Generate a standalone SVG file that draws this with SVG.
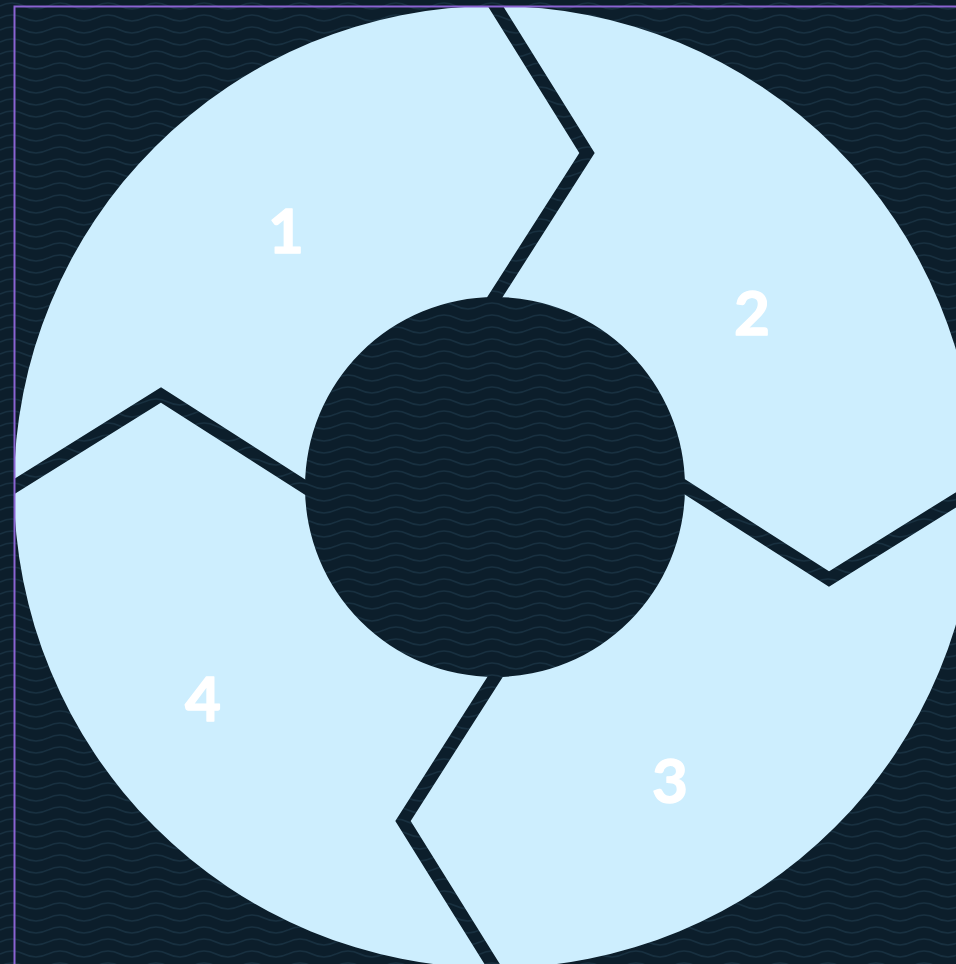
<svg xmlns="http://www.w3.org/2000/svg" width="956" height="964" viewBox="0 0 956 964">
  <defs>
    <pattern id="waves" width="48" height="12" patternUnits="userSpaceOnUse">
      <rect width="48" height="12" fill="#0c1e2b"/>
      <path d="M0 6 Q12 0 24 6 T48 6" fill="none" stroke="#183040" stroke-width="1.5"/>
    </pattern>
    <style>
      .seg { fill: #cdeefe; }
      .lbl { font-family: Lato, "Open Sans", "Liberation Sans", sans-serif; font-weight: 700; font-size: 62px; fill: #ffffff; stroke: #ffffff; stroke-width: 1.4; stroke-linejoin: round; text-anchor: middle; }
      .div { fill: none; stroke: url(#waves); stroke-width: 13; stroke-linejoin: miter; stroke-miterlimit: 10; }
    </style>
  </defs>

  <rect x="0" y="0" width="956" height="964" fill="url(#waves)"/>

  <g id="seg-1">
    <path class="seg" d="M14,487 L161,395 L305,487 A190,190 0 0 1 495,297 L587,153 L495,6 A481,481 0 0 0 14,487 Z"/>
    <text class="lbl" x="286" y="253">1</text>
  </g>
  <g id="seg-2">
    <path class="seg" d="M495,6 L587,153 L495,297 A190,190 0 0 1 685,487 L829,579 L976,487 A481,481 0 0 0 495,6 Z"/>
    <text class="lbl" x="752" y="335">2</text>
  </g>
  <g id="seg-3">
    <path class="seg" d="M976,487 L829,579 L685,487 A190,190 0 0 1 495,677 L403,821 L495,968 A481,481 0 0 0 976,487 Z"/>
    <text class="lbl" x="670" y="803">3</text>
  </g>
  <g id="seg-4">
    <path class="seg" d="M495,968 L403,821 L495,677 A190,190 0 0 1 305,487 L161,395 L14,487 A481,481 0 0 0 495,968 Z"/>
    <text class="lbl" x="203" y="721">4</text>
  </g>

  <g id="dividers">
    <path class="div" d="M486,-9 L587,153 L486,311"/>
    <path class="div" d="M991,478 L829,579 L671,478"/>
    <path class="div" d="M504,983 L403,821 L504,663"/>
    <path class="div" d="M-1,496 L161,395 L319,496"/>
  </g>

  <rect x="14.5" y="6.5" width="1000" height="1000" fill="none" stroke="#8a63d2" stroke-width="2"/>
</svg>
